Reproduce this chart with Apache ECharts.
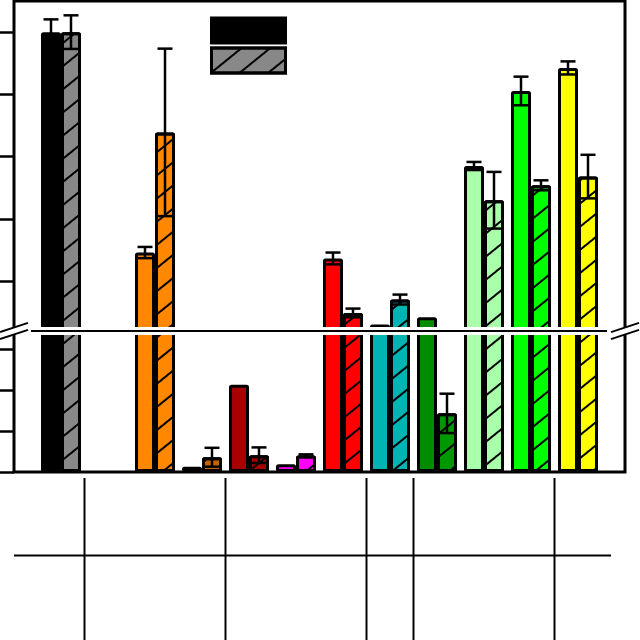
<!DOCTYPE html>
<html>
<head>
<meta charset="utf-8">
<script src="https://cdn.jsdelivr.net/npm/echarts@6/dist/echarts.min.js"></script>
<style>html,body{margin:0;padding:0;background:#fff}#c{width:640px;height:640px}</style>
</head>
<body>
<div id="c"></div>
<script>
// ---- data ----
const categories = ['c0','c1','c2','c3','c4','c5','c6','c7','c8','c9','c10','c11','c12','c13'];
const solidValues   = ['-', 100, '-', 29.2, 0.13, 2.13, 0.19, 27.3, 6.1, 8.4, 57.0, 81.1, 88.5, '-'];
const hatchedValues = ['-', 100, '-', 67.8, 0.36, 0.41, 0.40, 9.8, 14.1, 1.43, 46.0, 50.8, 53.6, '-'];
const solidErrors   = [null, 4.1, null, 1.8, null, null, null, 1.9, null, null, 1.3, 4.6, 2.1, null];
const hatchedErrors = [null, 5.4, null, 26.9, 0.23, 0.19, 0.03, 1.4, 1.6, 0.48, 9.1, 1.6, 7.0, null];
const upperTicks = [20, 40, 60, 80, 100];
const lowerTicks = [0, 1, 2, 3];
const groups = [[1], [2, 3, 4], [5, 6, 7], [8], [9, 10, 11], [12]];

// ---- style ----
const solidColors   = ['#000','#000','#000','#ff8800','#c86400','#a80000','#ff00ff','#ff0000','#00b4b4','#008c00','#aaffaa','#00ff00','#ffff00','#000'];
const hatchedColors = ['#888','#888','#888','#ff8800','#c86400','#a80000','#ff00ff','#ff0000','#00b4b4','#009800','#aaffaa','#00ff00','#ffff00','#888'];
const L = 14, W = 611, TOP = 1, BREAK = 331, BOTTOM = 472;
const UPPER_MIN = 4, UPPER_MAX = 110;
const LOWER_MAX = (BOTTOM - BREAK) / 41;
const BAR_W = 20, CAP = 15;
const hatch = { symbol: 'rect', symbolSize: 1, color: '#000', dashArrayX: [1, 0], dashArrayY: [2, 16], rotation: -0.68 };

const chart = echarts.init(document.getElementById('c'), null, { renderer: 'canvas' });

function items(vals, cols) {
  return vals.map((v, i) => v === '-' ? '-' : { value: v, itemStyle: { color: cols[i] } });
}
function errData(vals, errs) {
  const out = [];
  errs.forEach((e, i) => { if (e != null) out.push([i, vals[i], e]); });
  return out;
}
function errRender(offset) {
  return function (params, api) {
    const x = api.value(0), v = api.value(1), e = api.value(2);
    const p1 = api.coord([x, v + e]), p2 = api.coord([x, v - e]);
    const cx = p1[0] + offset, hw = CAP / 2;
    const style = { stroke: '#000', lineWidth: 2.5 };
    return { type: 'group', children: [
      { type: 'line', shape: { x1: cx, y1: p1[1], x2: cx, y2: p2[1] }, style },
      { type: 'line', shape: { x1: cx - hw, y1: p1[1], x2: cx + hw, y2: p1[1] }, style },
      { type: 'line', shape: { x1: cx - hw, y1: p2[1], x2: cx + hw, y2: p2[1] }, style }
    ]};
  };
}
const barBase = { type: 'bar', barWidth: BAR_W, barGap: '0%', clip: true, animation: false };
const series = [];
[0, 1].forEach(g => {
  series.push(Object.assign({}, barBase, { name: 'solid', xAxisIndex: g, yAxisIndex: g,
    itemStyle: { color: '#000', borderColor: '#000', borderWidth: 3, borderRadius: 1 },
    data: items(solidValues, solidColors) }));
  series.push(Object.assign({}, barBase, { name: 'hatched', xAxisIndex: g, yAxisIndex: g,
    itemStyle: { color: '#888', borderColor: '#000', borderWidth: 3, borderRadius: 1, decal: hatch },
    data: items(hatchedValues, hatchedColors) }));
});
[0, 1].forEach(g => {
  series.push({ type: 'custom', xAxisIndex: g, yAxisIndex: g, clip: true, z: 3, animation: false,
    renderItem: errRender(-BAR_W / 2), data: errData(solidValues, solidErrors) });
  series.push({ type: 'custom', xAxisIndex: g, yAxisIndex: g, clip: true, z: 3, animation: false,
    renderItem: errRender(BAR_W / 2), data: errData(hatchedValues, hatchedErrors) });
});

const xAxisBase = { type: 'category', data: categories, boundaryGap: false,
  axisLine: { show: false }, axisTick: { show: false }, axisLabel: { show: false }, splitLine: { show: false } };
const tickStyle = { length: 14, lineStyle: { color: '#000', width: 2.5 } };

chart.setOption({
  animation: false,
  backgroundColor: '#fff',
  legend: {
    data: ['solid', 'hatched'], orient: 'vertical', left: 210, top: 16.5, padding: 0,
    itemWidth: 74, itemHeight: 25, itemGap: 2, icon: 'rect',
    itemStyle: { borderColor: '#000', borderWidth: 3 },
    formatter: () => '', selectedMode: false
  },
  grid: [
    { left: L, width: W, top: TOP, height: BREAK - TOP, show: true, borderColor: '#000', borderWidth: 3, backgroundColor: 'transparent' },
    { left: L, width: W, top: BREAK, height: BOTTOM - BREAK, show: true, borderColor: '#000', borderWidth: 3, backgroundColor: 'transparent' }
  ],
  xAxis: [Object.assign({ gridIndex: 0 }, xAxisBase), Object.assign({ gridIndex: 1 }, xAxisBase)],
  yAxis: [
    { type: 'value', gridIndex: 0, min: UPPER_MIN, max: UPPER_MAX, splitLine: { show: false },
      axisLine: { show: false }, axisLabel: { show: false },
      axisTick: Object.assign({ show: true, customValues: upperTicks }, tickStyle) },
    { type: 'value', gridIndex: 1, min: 0, max: LOWER_MAX, interval: 1, splitLine: { show: false },
      axisLine: { show: false }, axisLabel: { show: false },
      axisTick: Object.assign({ show: true, customValues: lowerTicks }, tickStyle) }
  ],
  series: series
});

// ---- decorations: axis break and grouping table ----
const px = k => chart.convertToPixel({ xAxisIndex: 1 }, k);
const g = [];
g.push({ type: 'rect', z: 100, shape: { x: 0, y: BREAK - 4, width: 640, height: 8 }, style: { fill: '#fff' } });
g.push({ type: 'line', z: 101, shape: { x1: L + 17, y1: BREAK, x2: L + W - 18, y2: BREAK }, style: { stroke: '#000', lineWidth: 2 } });
[L, L + W].forEach(x0 => {
  [-3.5, 3.5].forEach(d => {
    g.push({ type: 'line', z: 101, shape: { x1: x0 - 14, y1: BREAK + d + 4.6, x2: x0 + 14, y2: BREAK + d - 4.6 }, style: { stroke: '#000', lineWidth: 2 } });
  });
});
g.push({ type: 'line', z: 101, shape: { x1: L, y1: 555.5, x2: 611, y2: 555.5 }, style: { stroke: '#000', lineWidth: 2 } });
for (let i = 0; i < groups.length - 1; i++) {
  const a = groups[i][groups[i].length - 1], b = groups[i + 1][0];
  const x = (px(a) + px(b)) / 2;
  g.push({ type: 'line', z: 101, shape: { x1: x, y1: 478, x2: x, y2: 640 }, style: { stroke: '#000', lineWidth: 2 } });
}
chart.setOption({ graphic: g });
</script>
</body>
</html>
